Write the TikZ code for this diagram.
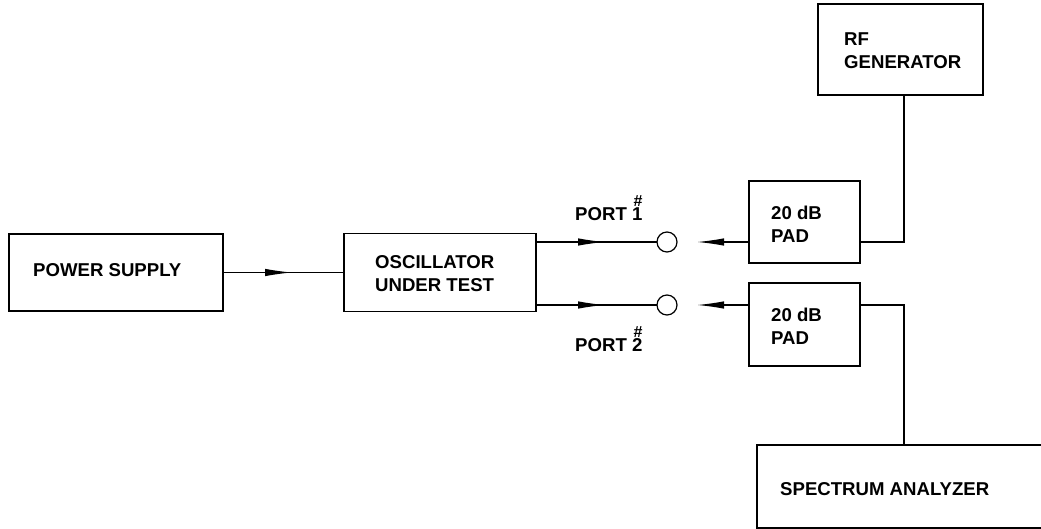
\documentclass[tikz,border=0pt]{standalone}
\usepackage{fontspec}
\setmainfont{Liberation Sans}
\usetikzlibrary{arrows.meta}
\begin{document}
\begin{tikzpicture}[x=1pt,y=-1pt,
  box/.style={draw,line width=1.2pt,inner sep=0pt,outer sep=0pt},
  lbl/.style={font=\fontsize{18.6}{23}\selectfont\bfseries,inner sep=0pt,anchor=west,align=left},
  port/.style={draw,circle,line width=1.2pt,minimum size=20pt,inner sep=0pt,outer sep=0pt},
  conn/.style={line width=1.2pt},
  arr/.style={conn,-{Latex[length=27pt,width=7.5pt]}}]
\useasboundingbox (0,0) rectangle (1041,529);
\clip (0,0) rectangle (1041,529);
% boxes
\node[box,minimum width=214pt,minimum height=77pt] (ps) at (116,272.5) {};
\node[box,minimum width=192pt,minimum height=78pt] (osc) at (440,272.5) {};
\node[box,minimum width=111pt,minimum height=82pt] (pad1) at (804.5,222) {};
\node[box,minimum width=111pt,minimum height=83pt] (pad2) at (804.5,324.5) {};
\node[box,minimum width=165pt,minimum height=91pt] (rf) at (900.5,49.5) {};
\node[box,minimum width=288pt,minimum height=83pt] (sa) at (901,486.5) {};
% ports
\node[port] (c1) at (667,242) {};
\node[port] (c2) at (667,305) {};
% labels
\node[lbl] (lps) at (33,270.5) {POWER SUPPLY};
\node[lbl] (losc) at (375,274) {OSCILLATOR\\UNDER TEST};
\node[lbl] (lpad1) at (771,224) {20 dB\\PAD};
\node[lbl] (lpad2) at (771,326.5) {20 dB\\PAD};
\node[lbl] (lrf) at (844,50.5) {RF\\GENERATOR};
\node[lbl] (lsa) at (780,489) {SPECTRUM ANALYZER};
\node[lbl] (lp1) at (575,214) {PORT \makebox[0pt][l]{\hspace{1.5pt}\smash{\raisebox{14pt}{\fontsize{16}{16}\selectfont\#}}}1};
\node[lbl] (lp2) at (575,344.7) {PORT \makebox[0pt][l]{\hspace{1.5pt}\smash{\raisebox{14pt}{\fontsize{16}{16}\selectfont\#}}}2};
% connectors
\coordinate (t0) at (292,272.5);
\draw[conn] (ps.east) -- (osc.west);
\draw[arr] (ps.east) -- (t0);
\coordinate (t1) at (605,242);
\coordinate (t2) at (605,305);
\draw[conn] (osc.east |- c1) -- (c1.west);
\draw[arr] (osc.east |- c1) -- (t1);
\draw[conn] (osc.east |- c2) -- (c2.west);
\draw[arr] (osc.east |- c2) -- (t2);
\coordinate (a1) at (697,242);
\coordinate (a2) at (697,305);
\draw[arr] (pad1.west |- c1) -- (a1);
\draw[arr] (pad2.west |- c2) -- (a2);
\coordinate (k1) at (904,242);
\coordinate (k2) at (904,305);
\draw[conn] (pad1.east |- k1) -- (k1) -- (k1 |- rf.south);
\draw[conn] (pad2.east |- k2) -- (k2) -- (k2 |- sa.north);
\end{tikzpicture}
\end{document}
